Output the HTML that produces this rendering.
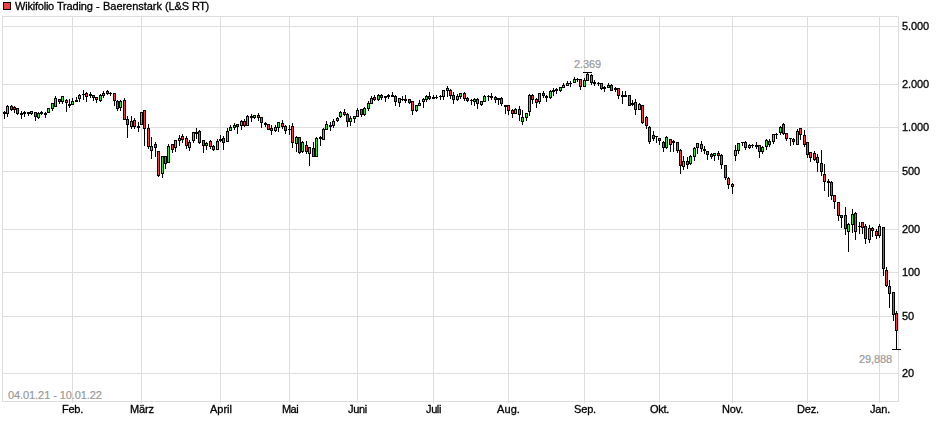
<!DOCTYPE html>
<html><head><meta charset="utf-8"><title>Chart</title>
<style>
html,body{margin:0;padding:0;background:#fff;}
body{width:940px;height:435px;position:relative;overflow:hidden;font-family:"Liberation Sans",sans-serif;font-size:11px;color:#000;}
svg{position:absolute;left:0;top:0;}
.t{position:absolute;line-height:13px;height:13px;white-space:nowrap;will-change:transform;-webkit-text-stroke:0.3px #000;}
.c{text-align:center;}
.g{color:#999;will-change:auto;-webkit-text-stroke:0.2px #999;}
.sq{position:absolute;left:3px;top:2px;width:6px;height:6px;border:1px solid #000;background:#f04040;}
</style></head><body>
<svg width="940" height="435" viewBox="0 0 940 435" shape-rendering="crispEdges">
<rect x="2" y="26" width="897" height="1" fill="#dddddd"/>
<rect x="2" y="84" width="897" height="1" fill="#dddddd"/>
<rect x="2" y="127" width="897" height="1" fill="#dddddd"/>
<rect x="2" y="171" width="897" height="1" fill="#dddddd"/>
<rect x="2" y="229" width="897" height="1" fill="#dddddd"/>
<rect x="2" y="272" width="897" height="1" fill="#dddddd"/>
<rect x="2" y="316" width="897" height="1" fill="#dddddd"/>
<rect x="2" y="373" width="897" height="1" fill="#dddddd"/>
<rect x="72" y="16" width="1" height="387" fill="#dddddd"/>
<rect x="141" y="16" width="1" height="387" fill="#dddddd"/>
<rect x="220" y="16" width="1" height="387" fill="#dddddd"/>
<rect x="289" y="16" width="1" height="387" fill="#dddddd"/>
<rect x="357" y="16" width="1" height="387" fill="#dddddd"/>
<rect x="433" y="16" width="1" height="387" fill="#dddddd"/>
<rect x="508" y="16" width="1" height="387" fill="#dddddd"/>
<rect x="584" y="16" width="1" height="387" fill="#dddddd"/>
<rect x="659" y="16" width="1" height="387" fill="#dddddd"/>
<rect x="732" y="16" width="1" height="387" fill="#dddddd"/>
<rect x="807" y="16" width="1" height="387" fill="#dddddd"/>
<rect x="879" y="16" width="1" height="387" fill="#dddddd"/>
<rect x="2" y="16" width="897" height="1" fill="#dddddd"/>
<rect x="2" y="401" width="897" height="1" fill="#dddddd"/>
<rect x="2" y="16" width="1" height="386" fill="#dddddd"/>
<rect x="898" y="16" width="1" height="386" fill="#dddddd"/>
<rect x="4" y="111" width="1" height="8" fill="#000"/>
<rect x="3" y="112" width="3" height="2" fill="#000"/>
<rect x="7" y="105" width="1" height="12" fill="#000"/>
<rect x="6" y="106" width="3" height="8" fill="#000"/>
<rect x="7" y="107" width="1" height="6" fill="#40e040"/>
<rect x="11" y="105" width="1" height="6" fill="#000"/>
<rect x="10" y="106" width="3" height="4" fill="#000"/>
<rect x="11" y="107" width="1" height="2" fill="#f04040"/>
<rect x="14" y="106" width="1" height="7" fill="#000"/>
<rect x="13" y="107" width="3" height="3" fill="#000"/>
<rect x="14" y="108" width="1" height="1" fill="#f04040"/>
<rect x="17" y="108" width="1" height="7" fill="#000"/>
<rect x="16" y="108" width="3" height="6" fill="#000"/>
<rect x="17" y="109" width="1" height="4" fill="#f04040"/>
<rect x="21" y="111" width="1" height="8" fill="#000"/>
<rect x="20" y="113" width="3" height="2" fill="#000"/>
<rect x="24" y="111" width="1" height="6" fill="#000"/>
<rect x="23" y="112" width="3" height="2" fill="#000"/>
<rect x="28" y="112" width="1" height="4" fill="#000"/>
<rect x="27" y="112" width="3" height="2" fill="#000"/>
<rect x="31" y="111" width="1" height="4" fill="#000"/>
<rect x="30" y="111" width="3" height="3" fill="#000"/>
<rect x="31" y="112" width="1" height="1" fill="#40e040"/>
<rect x="35" y="112" width="1" height="9" fill="#000"/>
<rect x="34" y="112" width="3" height="5" fill="#000"/>
<rect x="35" y="113" width="1" height="3" fill="#f04040"/>
<rect x="38" y="112" width="1" height="7" fill="#000"/>
<rect x="37" y="113" width="3" height="5" fill="#000"/>
<rect x="38" y="114" width="1" height="3" fill="#40e040"/>
<rect x="41" y="111" width="1" height="4" fill="#000"/>
<rect x="40" y="112" width="3" height="2" fill="#000"/>
<rect x="45" y="112" width="1" height="6" fill="#000"/>
<rect x="44" y="113" width="3" height="2" fill="#000"/>
<rect x="48" y="108" width="1" height="5" fill="#000"/>
<rect x="47" y="108" width="3" height="5" fill="#000"/>
<rect x="48" y="109" width="1" height="3" fill="#40e040"/>
<rect x="52" y="103" width="1" height="8" fill="#000"/>
<rect x="51" y="103" width="3" height="6" fill="#000"/>
<rect x="52" y="104" width="1" height="4" fill="#40e040"/>
<rect x="55" y="96" width="1" height="11" fill="#000"/>
<rect x="54" y="98" width="3" height="9" fill="#000"/>
<rect x="55" y="99" width="1" height="7" fill="#40e040"/>
<rect x="59" y="99" width="1" height="5" fill="#000"/>
<rect x="58" y="99" width="3" height="3" fill="#000"/>
<rect x="59" y="100" width="1" height="1" fill="#f04040"/>
<rect x="62" y="96" width="1" height="8" fill="#000"/>
<rect x="61" y="96" width="3" height="6" fill="#000"/>
<rect x="62" y="97" width="1" height="4" fill="#40e040"/>
<rect x="66" y="99" width="1" height="13" fill="#000"/>
<rect x="65" y="100" width="3" height="3" fill="#000"/>
<rect x="66" y="101" width="1" height="1" fill="#f04040"/>
<rect x="69" y="99" width="1" height="9" fill="#000"/>
<rect x="68" y="104" width="3" height="2" fill="#000"/>
<rect x="72" y="98" width="1" height="7" fill="#000"/>
<rect x="71" y="101" width="3" height="4" fill="#000"/>
<rect x="72" y="102" width="1" height="2" fill="#40e040"/>
<rect x="76" y="97" width="1" height="5" fill="#000"/>
<rect x="75" y="100" width="3" height="2" fill="#000"/>
<rect x="79" y="94" width="1" height="8" fill="#000"/>
<rect x="78" y="95" width="3" height="4" fill="#000"/>
<rect x="79" y="96" width="1" height="2" fill="#40e040"/>
<rect x="83" y="90" width="1" height="10" fill="#000"/>
<rect x="82" y="94" width="3" height="1" fill="#000"/>
<rect x="86" y="92" width="1" height="10" fill="#000"/>
<rect x="85" y="93" width="3" height="4" fill="#000"/>
<rect x="86" y="94" width="1" height="2" fill="#f04040"/>
<rect x="90" y="92" width="1" height="6" fill="#000"/>
<rect x="89" y="94" width="3" height="2" fill="#000"/>
<rect x="93" y="95" width="1" height="6" fill="#000"/>
<rect x="92" y="95" width="3" height="3" fill="#000"/>
<rect x="93" y="96" width="1" height="1" fill="#f04040"/>
<rect x="96" y="97" width="1" height="6" fill="#000"/>
<rect x="95" y="97" width="3" height="3" fill="#000"/>
<rect x="96" y="98" width="1" height="1" fill="#f04040"/>
<rect x="100" y="94" width="1" height="8" fill="#000"/>
<rect x="99" y="95" width="3" height="6" fill="#000"/>
<rect x="100" y="96" width="1" height="4" fill="#40e040"/>
<rect x="103" y="91" width="1" height="7" fill="#000"/>
<rect x="102" y="93" width="3" height="3" fill="#000"/>
<rect x="103" y="94" width="1" height="1" fill="#40e040"/>
<rect x="107" y="90" width="1" height="5" fill="#000"/>
<rect x="106" y="91" width="3" height="3" fill="#000"/>
<rect x="107" y="92" width="1" height="1" fill="#f04040"/>
<rect x="110" y="92" width="1" height="4" fill="#000"/>
<rect x="109" y="93" width="3" height="1" fill="#000"/>
<rect x="114" y="93" width="1" height="13" fill="#000"/>
<rect x="113" y="93" width="3" height="8" fill="#000"/>
<rect x="114" y="94" width="1" height="6" fill="#f04040"/>
<rect x="117" y="100" width="1" height="11" fill="#000"/>
<rect x="116" y="101" width="3" height="8" fill="#000"/>
<rect x="117" y="102" width="1" height="6" fill="#f04040"/>
<rect x="120" y="100" width="1" height="11" fill="#000"/>
<rect x="119" y="101" width="3" height="7" fill="#000"/>
<rect x="120" y="102" width="1" height="5" fill="#40e040"/>
<rect x="124" y="98" width="1" height="22" fill="#000"/>
<rect x="123" y="100" width="3" height="20" fill="#000"/>
<rect x="124" y="101" width="1" height="18" fill="#f04040"/>
<rect x="127" y="116" width="1" height="22" fill="#000"/>
<rect x="126" y="119" width="3" height="6" fill="#000"/>
<rect x="127" y="120" width="1" height="4" fill="#f04040"/>
<rect x="131" y="116" width="1" height="13" fill="#000"/>
<rect x="130" y="121" width="3" height="6" fill="#000"/>
<rect x="131" y="122" width="1" height="4" fill="#40e040"/>
<rect x="134" y="118" width="1" height="11" fill="#000"/>
<rect x="133" y="120" width="3" height="7" fill="#000"/>
<rect x="134" y="121" width="1" height="5" fill="#f04040"/>
<rect x="138" y="122" width="1" height="10" fill="#000"/>
<rect x="137" y="126" width="3" height="2" fill="#000"/>
<rect x="141" y="112" width="1" height="13" fill="#000"/>
<rect x="140" y="112" width="3" height="13" fill="#000"/>
<rect x="141" y="113" width="1" height="11" fill="#40e040"/>
<rect x="144" y="110" width="1" height="36" fill="#000"/>
<rect x="143" y="110" width="3" height="19" fill="#000"/>
<rect x="144" y="111" width="1" height="17" fill="#f04040"/>
<rect x="148" y="124" width="1" height="25" fill="#000"/>
<rect x="147" y="128" width="3" height="19" fill="#000"/>
<rect x="148" y="129" width="1" height="17" fill="#f04040"/>
<rect x="151" y="137" width="1" height="22" fill="#000"/>
<rect x="150" y="146" width="3" height="5" fill="#000"/>
<rect x="151" y="147" width="1" height="3" fill="#40e040"/>
<rect x="155" y="142" width="1" height="15" fill="#000"/>
<rect x="154" y="144" width="3" height="4" fill="#000"/>
<rect x="155" y="145" width="1" height="2" fill="#f04040"/>
<rect x="158" y="151" width="1" height="26" fill="#000"/>
<rect x="157" y="151" width="3" height="25" fill="#000"/>
<rect x="158" y="152" width="1" height="23" fill="#f04040"/>
<rect x="162" y="156" width="1" height="22" fill="#000"/>
<rect x="161" y="156" width="3" height="18" fill="#000"/>
<rect x="162" y="157" width="1" height="16" fill="#40e040"/>
<rect x="165" y="156" width="1" height="13" fill="#000"/>
<rect x="164" y="156" width="3" height="8" fill="#000"/>
<rect x="165" y="157" width="1" height="6" fill="#f04040"/>
<rect x="168" y="144" width="1" height="19" fill="#000"/>
<rect x="167" y="146" width="3" height="17" fill="#000"/>
<rect x="168" y="147" width="1" height="15" fill="#40e040"/>
<rect x="172" y="144" width="1" height="9" fill="#000"/>
<rect x="171" y="144" width="3" height="6" fill="#000"/>
<rect x="172" y="145" width="1" height="4" fill="#f04040"/>
<rect x="175" y="140" width="1" height="12" fill="#000"/>
<rect x="174" y="140" width="3" height="8" fill="#000"/>
<rect x="175" y="141" width="1" height="6" fill="#40e040"/>
<rect x="179" y="135" width="1" height="11" fill="#000"/>
<rect x="178" y="138" width="3" height="3" fill="#000"/>
<rect x="179" y="139" width="1" height="1" fill="#40e040"/>
<rect x="182" y="134" width="1" height="9" fill="#000"/>
<rect x="181" y="136" width="3" height="4" fill="#000"/>
<rect x="182" y="137" width="1" height="2" fill="#f04040"/>
<rect x="186" y="136" width="1" height="13" fill="#000"/>
<rect x="185" y="138" width="3" height="8" fill="#000"/>
<rect x="186" y="139" width="1" height="6" fill="#f04040"/>
<rect x="189" y="140" width="1" height="11" fill="#000"/>
<rect x="188" y="142" width="3" height="6" fill="#000"/>
<rect x="189" y="143" width="1" height="4" fill="#40e040"/>
<rect x="193" y="132" width="1" height="11" fill="#000"/>
<rect x="192" y="132" width="3" height="9" fill="#000"/>
<rect x="193" y="133" width="1" height="7" fill="#40e040"/>
<rect x="196" y="128" width="1" height="11" fill="#000"/>
<rect x="195" y="132" width="3" height="2" fill="#000"/>
<rect x="199" y="130" width="1" height="14" fill="#000"/>
<rect x="198" y="131" width="3" height="12" fill="#000"/>
<rect x="199" y="132" width="1" height="10" fill="#f04040"/>
<rect x="203" y="140" width="1" height="13" fill="#000"/>
<rect x="202" y="140" width="3" height="6" fill="#000"/>
<rect x="203" y="141" width="1" height="4" fill="#f04040"/>
<rect x="206" y="142" width="1" height="8" fill="#000"/>
<rect x="205" y="143" width="3" height="3" fill="#000"/>
<rect x="206" y="144" width="1" height="1" fill="#40e040"/>
<rect x="210" y="140" width="1" height="9" fill="#000"/>
<rect x="209" y="141" width="3" height="6" fill="#000"/>
<rect x="210" y="142" width="1" height="4" fill="#f04040"/>
<rect x="213" y="145" width="1" height="6" fill="#000"/>
<rect x="212" y="146" width="3" height="4" fill="#000"/>
<rect x="213" y="147" width="1" height="2" fill="#f04040"/>
<rect x="217" y="139" width="1" height="11" fill="#000"/>
<rect x="216" y="141" width="3" height="9" fill="#000"/>
<rect x="217" y="142" width="1" height="7" fill="#40e040"/>
<rect x="220" y="135" width="1" height="7" fill="#000"/>
<rect x="219" y="139" width="3" height="2" fill="#000"/>
<rect x="223" y="136" width="1" height="14" fill="#000"/>
<rect x="222" y="138" width="3" height="5" fill="#000"/>
<rect x="223" y="139" width="1" height="3" fill="#f04040"/>
<rect x="227" y="128" width="1" height="14" fill="#000"/>
<rect x="226" y="131" width="3" height="11" fill="#000"/>
<rect x="227" y="132" width="1" height="9" fill="#40e040"/>
<rect x="230" y="125" width="1" height="6" fill="#000"/>
<rect x="229" y="127" width="3" height="4" fill="#000"/>
<rect x="230" y="128" width="1" height="2" fill="#40e040"/>
<rect x="234" y="123" width="1" height="7" fill="#000"/>
<rect x="233" y="125" width="3" height="3" fill="#000"/>
<rect x="234" y="126" width="1" height="1" fill="#40e040"/>
<rect x="237" y="124" width="1" height="10" fill="#000"/>
<rect x="236" y="124" width="3" height="3" fill="#000"/>
<rect x="237" y="125" width="1" height="1" fill="#f04040"/>
<rect x="241" y="120" width="1" height="10" fill="#000"/>
<rect x="240" y="121" width="3" height="5" fill="#000"/>
<rect x="241" y="122" width="1" height="3" fill="#40e040"/>
<rect x="244" y="119" width="1" height="8" fill="#000"/>
<rect x="243" y="121" width="3" height="5" fill="#000"/>
<rect x="244" y="122" width="1" height="3" fill="#f04040"/>
<rect x="247" y="115" width="1" height="11" fill="#000"/>
<rect x="246" y="116" width="3" height="10" fill="#000"/>
<rect x="247" y="117" width="1" height="8" fill="#40e040"/>
<rect x="251" y="114" width="1" height="8" fill="#000"/>
<rect x="250" y="116" width="3" height="2" fill="#000"/>
<rect x="254" y="115" width="1" height="4" fill="#000"/>
<rect x="253" y="115" width="3" height="3" fill="#000"/>
<rect x="254" y="116" width="1" height="1" fill="#40e040"/>
<rect x="258" y="113" width="1" height="8" fill="#000"/>
<rect x="257" y="115" width="3" height="3" fill="#000"/>
<rect x="258" y="116" width="1" height="1" fill="#f04040"/>
<rect x="261" y="117" width="1" height="11" fill="#000"/>
<rect x="260" y="117" width="3" height="6" fill="#000"/>
<rect x="261" y="118" width="1" height="4" fill="#f04040"/>
<rect x="265" y="122" width="1" height="5" fill="#000"/>
<rect x="264" y="123" width="3" height="2" fill="#000"/>
<rect x="268" y="124" width="1" height="6" fill="#000"/>
<rect x="267" y="124" width="3" height="6" fill="#000"/>
<rect x="268" y="125" width="1" height="4" fill="#f04040"/>
<rect x="271" y="125" width="1" height="10" fill="#000"/>
<rect x="270" y="128" width="3" height="3" fill="#000"/>
<rect x="271" y="129" width="1" height="1" fill="#f04040"/>
<rect x="275" y="125" width="1" height="7" fill="#000"/>
<rect x="274" y="127" width="3" height="4" fill="#000"/>
<rect x="275" y="128" width="1" height="2" fill="#40e040"/>
<rect x="278" y="122" width="1" height="10" fill="#000"/>
<rect x="277" y="122" width="3" height="6" fill="#000"/>
<rect x="278" y="123" width="1" height="4" fill="#40e040"/>
<rect x="282" y="120" width="1" height="9" fill="#000"/>
<rect x="281" y="123" width="3" height="4" fill="#000"/>
<rect x="282" y="124" width="1" height="2" fill="#f04040"/>
<rect x="285" y="125" width="1" height="9" fill="#000"/>
<rect x="284" y="126" width="3" height="5" fill="#000"/>
<rect x="285" y="127" width="1" height="3" fill="#f04040"/>
<rect x="289" y="125" width="1" height="10" fill="#000"/>
<rect x="288" y="129" width="3" height="1" fill="#000"/>
<rect x="292" y="123" width="1" height="25" fill="#000"/>
<rect x="291" y="126" width="3" height="17" fill="#000"/>
<rect x="292" y="127" width="1" height="15" fill="#f04040"/>
<rect x="296" y="136" width="1" height="16" fill="#000"/>
<rect x="295" y="137" width="3" height="7" fill="#000"/>
<rect x="296" y="138" width="1" height="5" fill="#40e040"/>
<rect x="299" y="137" width="1" height="17" fill="#000"/>
<rect x="298" y="137" width="3" height="16" fill="#000"/>
<rect x="299" y="138" width="1" height="14" fill="#f04040"/>
<rect x="302" y="141" width="1" height="12" fill="#000"/>
<rect x="301" y="142" width="3" height="10" fill="#000"/>
<rect x="302" y="143" width="1" height="8" fill="#40e040"/>
<rect x="306" y="141" width="1" height="13" fill="#000"/>
<rect x="305" y="145" width="3" height="7" fill="#000"/>
<rect x="306" y="146" width="1" height="5" fill="#f04040"/>
<rect x="309" y="147" width="1" height="19" fill="#000"/>
<rect x="308" y="147" width="3" height="7" fill="#000"/>
<rect x="309" y="148" width="1" height="5" fill="#40e040"/>
<rect x="313" y="142" width="1" height="15" fill="#000"/>
<rect x="312" y="148" width="3" height="9" fill="#000"/>
<rect x="313" y="149" width="1" height="7" fill="#f04040"/>
<rect x="316" y="137" width="1" height="20" fill="#000"/>
<rect x="315" y="138" width="3" height="19" fill="#000"/>
<rect x="316" y="139" width="1" height="17" fill="#40e040"/>
<rect x="320" y="136" width="1" height="10" fill="#000"/>
<rect x="319" y="137" width="3" height="2" fill="#000"/>
<rect x="323" y="128" width="1" height="12" fill="#000"/>
<rect x="322" y="129" width="3" height="11" fill="#000"/>
<rect x="323" y="130" width="1" height="9" fill="#40e040"/>
<rect x="326" y="121" width="1" height="9" fill="#000"/>
<rect x="325" y="124" width="3" height="6" fill="#000"/>
<rect x="326" y="125" width="1" height="4" fill="#40e040"/>
<rect x="330" y="122" width="1" height="9" fill="#000"/>
<rect x="329" y="125" width="3" height="2" fill="#000"/>
<rect x="333" y="119" width="1" height="9" fill="#000"/>
<rect x="332" y="121" width="3" height="5" fill="#000"/>
<rect x="333" y="122" width="1" height="3" fill="#40e040"/>
<rect x="337" y="117" width="1" height="5" fill="#000"/>
<rect x="336" y="118" width="3" height="3" fill="#000"/>
<rect x="337" y="119" width="1" height="1" fill="#40e040"/>
<rect x="340" y="111" width="1" height="7" fill="#000"/>
<rect x="339" y="112" width="3" height="5" fill="#000"/>
<rect x="340" y="113" width="1" height="3" fill="#40e040"/>
<rect x="344" y="109" width="1" height="7" fill="#000"/>
<rect x="343" y="112" width="3" height="3" fill="#000"/>
<rect x="344" y="113" width="1" height="1" fill="#f04040"/>
<rect x="347" y="113" width="1" height="14" fill="#000"/>
<rect x="346" y="114" width="3" height="8" fill="#000"/>
<rect x="347" y="115" width="1" height="6" fill="#f04040"/>
<rect x="350" y="116" width="1" height="10" fill="#000"/>
<rect x="349" y="118" width="3" height="4" fill="#000"/>
<rect x="350" y="119" width="1" height="2" fill="#40e040"/>
<rect x="354" y="116" width="1" height="7" fill="#000"/>
<rect x="353" y="116" width="3" height="3" fill="#000"/>
<rect x="354" y="117" width="1" height="1" fill="#40e040"/>
<rect x="357" y="108" width="1" height="9" fill="#000"/>
<rect x="356" y="110" width="3" height="7" fill="#000"/>
<rect x="357" y="111" width="1" height="5" fill="#40e040"/>
<rect x="361" y="109" width="1" height="8" fill="#000"/>
<rect x="360" y="109" width="3" height="6" fill="#000"/>
<rect x="361" y="110" width="1" height="4" fill="#f04040"/>
<rect x="364" y="107" width="1" height="9" fill="#000"/>
<rect x="363" y="108" width="3" height="7" fill="#000"/>
<rect x="364" y="109" width="1" height="5" fill="#40e040"/>
<rect x="368" y="101" width="1" height="10" fill="#000"/>
<rect x="367" y="103" width="3" height="6" fill="#000"/>
<rect x="368" y="104" width="1" height="4" fill="#40e040"/>
<rect x="371" y="96" width="1" height="8" fill="#000"/>
<rect x="370" y="98" width="3" height="6" fill="#000"/>
<rect x="371" y="99" width="1" height="4" fill="#40e040"/>
<rect x="374" y="95" width="1" height="6" fill="#000"/>
<rect x="373" y="97" width="3" height="3" fill="#000"/>
<rect x="374" y="98" width="1" height="1" fill="#f04040"/>
<rect x="378" y="94" width="1" height="7" fill="#000"/>
<rect x="377" y="95" width="3" height="5" fill="#000"/>
<rect x="378" y="96" width="1" height="3" fill="#40e040"/>
<rect x="381" y="94" width="1" height="6" fill="#000"/>
<rect x="380" y="95" width="3" height="3" fill="#000"/>
<rect x="381" y="96" width="1" height="1" fill="#f04040"/>
<rect x="385" y="96" width="1" height="6" fill="#000"/>
<rect x="384" y="96" width="3" height="2" fill="#000"/>
<rect x="388" y="94" width="1" height="5" fill="#000"/>
<rect x="387" y="95" width="3" height="2" fill="#000"/>
<rect x="392" y="92" width="1" height="5" fill="#000"/>
<rect x="391" y="95" width="3" height="2" fill="#000"/>
<rect x="395" y="95" width="1" height="11" fill="#000"/>
<rect x="394" y="96" width="3" height="6" fill="#000"/>
<rect x="395" y="97" width="1" height="4" fill="#f04040"/>
<rect x="399" y="98" width="1" height="9" fill="#000"/>
<rect x="398" y="98" width="3" height="5" fill="#000"/>
<rect x="399" y="99" width="1" height="3" fill="#40e040"/>
<rect x="402" y="96" width="1" height="5" fill="#000"/>
<rect x="401" y="99" width="3" height="1" fill="#000"/>
<rect x="405" y="95" width="1" height="8" fill="#000"/>
<rect x="404" y="99" width="3" height="2" fill="#000"/>
<rect x="409" y="99" width="1" height="5" fill="#000"/>
<rect x="408" y="99" width="3" height="4" fill="#000"/>
<rect x="409" y="100" width="1" height="2" fill="#f04040"/>
<rect x="412" y="101" width="1" height="14" fill="#000"/>
<rect x="411" y="101" width="3" height="10" fill="#000"/>
<rect x="412" y="102" width="1" height="8" fill="#f04040"/>
<rect x="416" y="105" width="1" height="7" fill="#000"/>
<rect x="415" y="105" width="3" height="6" fill="#000"/>
<rect x="416" y="106" width="1" height="4" fill="#40e040"/>
<rect x="419" y="100" width="1" height="6" fill="#000"/>
<rect x="418" y="103" width="3" height="3" fill="#000"/>
<rect x="419" y="104" width="1" height="1" fill="#40e040"/>
<rect x="423" y="98" width="1" height="10" fill="#000"/>
<rect x="422" y="99" width="3" height="3" fill="#000"/>
<rect x="423" y="100" width="1" height="1" fill="#40e040"/>
<rect x="426" y="95" width="1" height="7" fill="#000"/>
<rect x="425" y="96" width="3" height="4" fill="#000"/>
<rect x="426" y="97" width="1" height="2" fill="#40e040"/>
<rect x="429" y="92" width="1" height="8" fill="#000"/>
<rect x="428" y="96" width="3" height="3" fill="#000"/>
<rect x="429" y="97" width="1" height="1" fill="#f04040"/>
<rect x="433" y="95" width="1" height="4" fill="#000"/>
<rect x="432" y="97" width="3" height="2" fill="#000"/>
<rect x="436" y="95" width="1" height="4" fill="#000"/>
<rect x="435" y="97" width="3" height="1" fill="#000"/>
<rect x="440" y="95" width="1" height="5" fill="#000"/>
<rect x="439" y="96" width="3" height="1" fill="#000"/>
<rect x="443" y="90" width="1" height="10" fill="#000"/>
<rect x="442" y="90" width="3" height="7" fill="#000"/>
<rect x="443" y="91" width="1" height="5" fill="#40e040"/>
<rect x="447" y="86" width="1" height="11" fill="#000"/>
<rect x="446" y="88" width="3" height="3" fill="#000"/>
<rect x="447" y="89" width="1" height="1" fill="#40e040"/>
<rect x="450" y="89" width="1" height="10" fill="#000"/>
<rect x="449" y="90" width="3" height="6" fill="#000"/>
<rect x="450" y="91" width="1" height="4" fill="#f04040"/>
<rect x="453" y="92" width="1" height="12" fill="#000"/>
<rect x="452" y="95" width="3" height="5" fill="#000"/>
<rect x="453" y="96" width="1" height="3" fill="#f04040"/>
<rect x="457" y="94" width="1" height="7" fill="#000"/>
<rect x="456" y="96" width="3" height="4" fill="#000"/>
<rect x="457" y="97" width="1" height="2" fill="#40e040"/>
<rect x="460" y="93" width="1" height="6" fill="#000"/>
<rect x="459" y="93" width="3" height="4" fill="#000"/>
<rect x="460" y="94" width="1" height="2" fill="#40e040"/>
<rect x="464" y="92" width="1" height="9" fill="#000"/>
<rect x="463" y="93" width="3" height="6" fill="#000"/>
<rect x="464" y="94" width="1" height="4" fill="#f04040"/>
<rect x="467" y="97" width="1" height="5" fill="#000"/>
<rect x="466" y="98" width="3" height="3" fill="#000"/>
<rect x="467" y="99" width="1" height="1" fill="#f04040"/>
<rect x="471" y="99" width="1" height="6" fill="#000"/>
<rect x="470" y="100" width="3" height="1" fill="#000"/>
<rect x="474" y="98" width="1" height="8" fill="#000"/>
<rect x="473" y="99" width="3" height="3" fill="#000"/>
<rect x="474" y="100" width="1" height="1" fill="#40e040"/>
<rect x="477" y="98" width="1" height="11" fill="#000"/>
<rect x="476" y="99" width="3" height="5" fill="#000"/>
<rect x="477" y="100" width="1" height="3" fill="#f04040"/>
<rect x="481" y="101" width="1" height="5" fill="#000"/>
<rect x="480" y="101" width="3" height="4" fill="#000"/>
<rect x="481" y="102" width="1" height="2" fill="#40e040"/>
<rect x="484" y="95" width="1" height="7" fill="#000"/>
<rect x="483" y="96" width="3" height="6" fill="#000"/>
<rect x="484" y="97" width="1" height="4" fill="#40e040"/>
<rect x="488" y="95" width="1" height="6" fill="#000"/>
<rect x="487" y="96" width="3" height="1" fill="#000"/>
<rect x="491" y="93" width="1" height="7" fill="#000"/>
<rect x="490" y="96" width="3" height="2" fill="#000"/>
<rect x="495" y="96" width="1" height="7" fill="#000"/>
<rect x="494" y="97" width="3" height="3" fill="#000"/>
<rect x="495" y="98" width="1" height="1" fill="#f04040"/>
<rect x="498" y="98" width="1" height="7" fill="#000"/>
<rect x="497" y="98" width="3" height="2" fill="#000"/>
<rect x="501" y="97" width="1" height="9" fill="#000"/>
<rect x="500" y="98" width="3" height="6" fill="#000"/>
<rect x="501" y="99" width="1" height="4" fill="#f04040"/>
<rect x="505" y="105" width="1" height="9" fill="#000"/>
<rect x="504" y="105" width="3" height="2" fill="#000"/>
<rect x="508" y="105" width="1" height="10" fill="#000"/>
<rect x="507" y="105" width="3" height="6" fill="#000"/>
<rect x="508" y="106" width="1" height="4" fill="#f04040"/>
<rect x="512" y="109" width="1" height="9" fill="#000"/>
<rect x="511" y="110" width="3" height="4" fill="#000"/>
<rect x="512" y="111" width="1" height="2" fill="#f04040"/>
<rect x="515" y="108" width="1" height="5" fill="#000"/>
<rect x="514" y="109" width="3" height="5" fill="#000"/>
<rect x="515" y="110" width="1" height="3" fill="#40e040"/>
<rect x="519" y="106" width="1" height="15" fill="#000"/>
<rect x="518" y="109" width="3" height="6" fill="#000"/>
<rect x="519" y="110" width="1" height="4" fill="#f04040"/>
<rect x="522" y="110" width="1" height="15" fill="#000"/>
<rect x="521" y="117" width="3" height="5" fill="#000"/>
<rect x="522" y="118" width="1" height="3" fill="#40e040"/>
<rect x="526" y="113" width="1" height="8" fill="#000"/>
<rect x="525" y="113" width="3" height="5" fill="#000"/>
<rect x="526" y="114" width="1" height="3" fill="#40e040"/>
<rect x="529" y="94" width="1" height="22" fill="#000"/>
<rect x="528" y="95" width="3" height="17" fill="#000"/>
<rect x="529" y="96" width="1" height="15" fill="#40e040"/>
<rect x="532" y="94" width="1" height="10" fill="#000"/>
<rect x="531" y="95" width="3" height="5" fill="#000"/>
<rect x="532" y="96" width="1" height="3" fill="#f04040"/>
<rect x="536" y="98" width="1" height="10" fill="#000"/>
<rect x="535" y="99" width="3" height="4" fill="#000"/>
<rect x="536" y="100" width="1" height="2" fill="#f04040"/>
<rect x="539" y="93" width="1" height="11" fill="#000"/>
<rect x="538" y="93" width="3" height="9" fill="#000"/>
<rect x="539" y="94" width="1" height="7" fill="#40e040"/>
<rect x="543" y="91" width="1" height="7" fill="#000"/>
<rect x="542" y="93" width="3" height="3" fill="#000"/>
<rect x="543" y="94" width="1" height="1" fill="#f04040"/>
<rect x="546" y="95" width="1" height="7" fill="#000"/>
<rect x="545" y="96" width="3" height="2" fill="#000"/>
<rect x="550" y="90" width="1" height="9" fill="#000"/>
<rect x="549" y="91" width="3" height="7" fill="#000"/>
<rect x="550" y="92" width="1" height="5" fill="#40e040"/>
<rect x="553" y="88" width="1" height="8" fill="#000"/>
<rect x="552" y="90" width="3" height="2" fill="#000"/>
<rect x="556" y="88" width="1" height="6" fill="#000"/>
<rect x="555" y="89" width="3" height="2" fill="#000"/>
<rect x="560" y="87" width="1" height="5" fill="#000"/>
<rect x="559" y="87" width="3" height="4" fill="#000"/>
<rect x="560" y="88" width="1" height="2" fill="#40e040"/>
<rect x="563" y="83" width="1" height="5" fill="#000"/>
<rect x="562" y="85" width="3" height="3" fill="#000"/>
<rect x="563" y="86" width="1" height="1" fill="#40e040"/>
<rect x="567" y="81" width="1" height="5" fill="#000"/>
<rect x="566" y="83" width="3" height="3" fill="#000"/>
<rect x="567" y="84" width="1" height="1" fill="#40e040"/>
<rect x="570" y="81" width="1" height="6" fill="#000"/>
<rect x="569" y="83" width="3" height="1" fill="#000"/>
<rect x="574" y="77" width="1" height="6" fill="#000"/>
<rect x="573" y="79" width="3" height="4" fill="#000"/>
<rect x="574" y="80" width="1" height="2" fill="#40e040"/>
<rect x="577" y="78" width="1" height="4" fill="#000"/>
<rect x="576" y="79" width="3" height="1" fill="#000"/>
<rect x="580" y="79" width="1" height="11" fill="#000"/>
<rect x="579" y="79" width="3" height="8" fill="#000"/>
<rect x="580" y="80" width="1" height="6" fill="#f04040"/>
<rect x="584" y="78" width="1" height="9" fill="#000"/>
<rect x="583" y="80" width="3" height="7" fill="#000"/>
<rect x="584" y="81" width="1" height="5" fill="#40e040"/>
<rect x="587" y="72" width="1" height="9" fill="#000"/>
<rect x="586" y="74" width="3" height="7" fill="#000"/>
<rect x="587" y="75" width="1" height="5" fill="#40e040"/>
<rect x="591" y="74" width="1" height="11" fill="#000"/>
<rect x="590" y="75" width="3" height="8" fill="#000"/>
<rect x="591" y="76" width="1" height="6" fill="#f04040"/>
<rect x="594" y="80" width="1" height="6" fill="#000"/>
<rect x="593" y="82" width="3" height="2" fill="#000"/>
<rect x="598" y="82" width="1" height="4" fill="#000"/>
<rect x="597" y="83" width="3" height="1" fill="#000"/>
<rect x="601" y="83" width="1" height="7" fill="#000"/>
<rect x="600" y="83" width="3" height="6" fill="#000"/>
<rect x="601" y="84" width="1" height="4" fill="#f04040"/>
<rect x="604" y="86" width="1" height="6" fill="#000"/>
<rect x="603" y="87" width="3" height="2" fill="#000"/>
<rect x="608" y="83" width="1" height="5" fill="#000"/>
<rect x="607" y="85" width="3" height="3" fill="#000"/>
<rect x="608" y="86" width="1" height="1" fill="#40e040"/>
<rect x="611" y="84" width="1" height="7" fill="#000"/>
<rect x="610" y="85" width="3" height="6" fill="#000"/>
<rect x="611" y="86" width="1" height="4" fill="#f04040"/>
<rect x="615" y="87" width="1" height="5" fill="#000"/>
<rect x="614" y="88" width="3" height="2" fill="#000"/>
<rect x="618" y="88" width="1" height="11" fill="#000"/>
<rect x="617" y="88" width="3" height="8" fill="#000"/>
<rect x="618" y="89" width="1" height="6" fill="#f04040"/>
<rect x="622" y="91" width="1" height="13" fill="#000"/>
<rect x="621" y="95" width="3" height="2" fill="#000"/>
<rect x="625" y="91" width="1" height="6" fill="#000"/>
<rect x="624" y="95" width="3" height="2" fill="#000"/>
<rect x="629" y="95" width="1" height="11" fill="#000"/>
<rect x="628" y="95" width="3" height="11" fill="#000"/>
<rect x="629" y="96" width="1" height="9" fill="#f04040"/>
<rect x="632" y="100" width="1" height="6" fill="#000"/>
<rect x="631" y="103" width="3" height="2" fill="#000"/>
<rect x="635" y="99" width="1" height="16" fill="#000"/>
<rect x="634" y="102" width="3" height="8" fill="#000"/>
<rect x="635" y="103" width="1" height="6" fill="#f04040"/>
<rect x="639" y="103" width="1" height="7" fill="#000"/>
<rect x="638" y="104" width="3" height="6" fill="#000"/>
<rect x="639" y="105" width="1" height="4" fill="#40e040"/>
<rect x="642" y="105" width="1" height="19" fill="#000"/>
<rect x="641" y="105" width="3" height="18" fill="#000"/>
<rect x="642" y="106" width="1" height="16" fill="#f04040"/>
<rect x="646" y="116" width="1" height="13" fill="#000"/>
<rect x="645" y="117" width="3" height="9" fill="#000"/>
<rect x="646" y="118" width="1" height="7" fill="#f04040"/>
<rect x="649" y="126" width="1" height="18" fill="#000"/>
<rect x="648" y="127" width="3" height="15" fill="#000"/>
<rect x="649" y="128" width="1" height="13" fill="#f04040"/>
<rect x="653" y="131" width="1" height="10" fill="#000"/>
<rect x="652" y="135" width="3" height="4" fill="#000"/>
<rect x="653" y="136" width="1" height="2" fill="#f04040"/>
<rect x="656" y="136" width="1" height="7" fill="#000"/>
<rect x="655" y="136" width="3" height="1" fill="#000"/>
<rect x="659" y="138" width="1" height="7" fill="#000"/>
<rect x="658" y="138" width="3" height="3" fill="#000"/>
<rect x="659" y="139" width="1" height="1" fill="#f04040"/>
<rect x="663" y="141" width="1" height="11" fill="#000"/>
<rect x="662" y="142" width="3" height="6" fill="#000"/>
<rect x="663" y="143" width="1" height="4" fill="#f04040"/>
<rect x="666" y="136" width="1" height="13" fill="#000"/>
<rect x="665" y="137" width="3" height="11" fill="#000"/>
<rect x="666" y="138" width="1" height="9" fill="#40e040"/>
<rect x="670" y="139" width="1" height="13" fill="#000"/>
<rect x="669" y="139" width="3" height="6" fill="#000"/>
<rect x="670" y="140" width="1" height="4" fill="#f04040"/>
<rect x="673" y="140" width="1" height="12" fill="#000"/>
<rect x="672" y="141" width="3" height="2" fill="#000"/>
<rect x="677" y="142" width="1" height="11" fill="#000"/>
<rect x="676" y="142" width="3" height="9" fill="#000"/>
<rect x="677" y="143" width="1" height="7" fill="#f04040"/>
<rect x="680" y="149" width="1" height="25" fill="#000"/>
<rect x="679" y="150" width="3" height="16" fill="#000"/>
<rect x="680" y="151" width="1" height="14" fill="#f04040"/>
<rect x="683" y="156" width="1" height="14" fill="#000"/>
<rect x="682" y="161" width="3" height="6" fill="#000"/>
<rect x="683" y="162" width="1" height="4" fill="#40e040"/>
<rect x="687" y="157" width="1" height="12" fill="#000"/>
<rect x="686" y="161" width="3" height="4" fill="#000"/>
<rect x="687" y="162" width="1" height="2" fill="#f04040"/>
<rect x="690" y="155" width="1" height="10" fill="#000"/>
<rect x="689" y="156" width="3" height="8" fill="#000"/>
<rect x="690" y="157" width="1" height="6" fill="#40e040"/>
<rect x="694" y="147" width="1" height="14" fill="#000"/>
<rect x="693" y="148" width="3" height="9" fill="#000"/>
<rect x="694" y="149" width="1" height="7" fill="#40e040"/>
<rect x="697" y="143" width="1" height="11" fill="#000"/>
<rect x="696" y="143" width="3" height="5" fill="#000"/>
<rect x="697" y="144" width="1" height="3" fill="#40e040"/>
<rect x="701" y="141" width="1" height="11" fill="#000"/>
<rect x="700" y="144" width="3" height="5" fill="#000"/>
<rect x="701" y="145" width="1" height="3" fill="#f04040"/>
<rect x="704" y="146" width="1" height="8" fill="#000"/>
<rect x="703" y="149" width="3" height="2" fill="#000"/>
<rect x="707" y="151" width="1" height="9" fill="#000"/>
<rect x="706" y="151" width="3" height="4" fill="#000"/>
<rect x="707" y="152" width="1" height="2" fill="#f04040"/>
<rect x="711" y="153" width="1" height="6" fill="#000"/>
<rect x="710" y="154" width="3" height="3" fill="#000"/>
<rect x="711" y="155" width="1" height="1" fill="#f04040"/>
<rect x="714" y="153" width="1" height="8" fill="#000"/>
<rect x="713" y="153" width="3" height="3" fill="#000"/>
<rect x="714" y="154" width="1" height="1" fill="#40e040"/>
<rect x="718" y="151" width="1" height="9" fill="#000"/>
<rect x="717" y="153" width="3" height="3" fill="#000"/>
<rect x="718" y="154" width="1" height="1" fill="#f04040"/>
<rect x="721" y="154" width="1" height="15" fill="#000"/>
<rect x="720" y="155" width="3" height="10" fill="#000"/>
<rect x="721" y="156" width="1" height="8" fill="#f04040"/>
<rect x="725" y="165" width="1" height="15" fill="#000"/>
<rect x="724" y="165" width="3" height="13" fill="#000"/>
<rect x="725" y="166" width="1" height="11" fill="#f04040"/>
<rect x="728" y="177" width="1" height="12" fill="#000"/>
<rect x="727" y="178" width="3" height="7" fill="#000"/>
<rect x="728" y="179" width="1" height="5" fill="#f04040"/>
<rect x="732" y="183" width="1" height="11" fill="#000"/>
<rect x="731" y="184" width="3" height="3" fill="#000"/>
<rect x="732" y="185" width="1" height="1" fill="#f04040"/>
<rect x="735" y="145" width="1" height="16" fill="#000"/>
<rect x="734" y="150" width="3" height="6" fill="#000"/>
<rect x="735" y="151" width="1" height="4" fill="#40e040"/>
<rect x="738" y="143" width="1" height="11" fill="#000"/>
<rect x="737" y="143" width="3" height="8" fill="#000"/>
<rect x="738" y="144" width="1" height="6" fill="#40e040"/>
<rect x="742" y="142" width="1" height="4" fill="#000"/>
<rect x="741" y="142" width="3" height="1" fill="#000"/>
<rect x="745" y="141" width="1" height="9" fill="#000"/>
<rect x="744" y="142" width="3" height="6" fill="#000"/>
<rect x="745" y="143" width="1" height="4" fill="#f04040"/>
<rect x="749" y="144" width="1" height="5" fill="#000"/>
<rect x="748" y="145" width="3" height="3" fill="#000"/>
<rect x="749" y="146" width="1" height="1" fill="#40e040"/>
<rect x="752" y="144" width="1" height="4" fill="#000"/>
<rect x="751" y="145" width="3" height="1" fill="#000"/>
<rect x="756" y="142" width="1" height="7" fill="#000"/>
<rect x="755" y="145" width="3" height="2" fill="#000"/>
<rect x="759" y="145" width="1" height="13" fill="#000"/>
<rect x="758" y="145" width="3" height="7" fill="#000"/>
<rect x="759" y="146" width="1" height="5" fill="#f04040"/>
<rect x="762" y="146" width="1" height="8" fill="#000"/>
<rect x="761" y="147" width="3" height="5" fill="#000"/>
<rect x="762" y="148" width="1" height="3" fill="#40e040"/>
<rect x="766" y="139" width="1" height="11" fill="#000"/>
<rect x="765" y="140" width="3" height="7" fill="#000"/>
<rect x="766" y="141" width="1" height="5" fill="#40e040"/>
<rect x="769" y="139" width="1" height="8" fill="#000"/>
<rect x="768" y="141" width="3" height="4" fill="#000"/>
<rect x="769" y="142" width="1" height="2" fill="#f04040"/>
<rect x="773" y="134" width="1" height="10" fill="#000"/>
<rect x="772" y="134" width="3" height="8" fill="#000"/>
<rect x="773" y="135" width="1" height="6" fill="#40e040"/>
<rect x="776" y="133" width="1" height="6" fill="#000"/>
<rect x="775" y="134" width="3" height="1" fill="#000"/>
<rect x="780" y="126" width="1" height="9" fill="#000"/>
<rect x="779" y="127" width="3" height="6" fill="#000"/>
<rect x="780" y="128" width="1" height="4" fill="#40e040"/>
<rect x="783" y="123" width="1" height="12" fill="#000"/>
<rect x="782" y="124" width="3" height="10" fill="#000"/>
<rect x="783" y="125" width="1" height="8" fill="#f04040"/>
<rect x="786" y="133" width="1" height="8" fill="#000"/>
<rect x="785" y="133" width="3" height="6" fill="#000"/>
<rect x="786" y="134" width="1" height="4" fill="#f04040"/>
<rect x="790" y="138" width="1" height="8" fill="#000"/>
<rect x="789" y="138" width="3" height="1" fill="#000"/>
<rect x="793" y="138" width="1" height="7" fill="#000"/>
<rect x="792" y="139" width="3" height="3" fill="#000"/>
<rect x="793" y="140" width="1" height="1" fill="#f04040"/>
<rect x="797" y="129" width="1" height="16" fill="#000"/>
<rect x="796" y="131" width="3" height="14" fill="#000"/>
<rect x="797" y="132" width="1" height="12" fill="#40e040"/>
<rect x="800" y="128" width="1" height="12" fill="#000"/>
<rect x="799" y="128" width="3" height="7" fill="#000"/>
<rect x="800" y="129" width="1" height="5" fill="#f04040"/>
<rect x="804" y="130" width="1" height="17" fill="#000"/>
<rect x="803" y="135" width="3" height="10" fill="#000"/>
<rect x="804" y="136" width="1" height="8" fill="#f04040"/>
<rect x="807" y="142" width="1" height="16" fill="#000"/>
<rect x="806" y="142" width="3" height="13" fill="#000"/>
<rect x="807" y="143" width="1" height="11" fill="#f04040"/>
<rect x="810" y="152" width="1" height="10" fill="#000"/>
<rect x="809" y="152" width="3" height="6" fill="#000"/>
<rect x="810" y="153" width="1" height="4" fill="#f04040"/>
<rect x="814" y="151" width="1" height="10" fill="#000"/>
<rect x="813" y="153" width="3" height="7" fill="#000"/>
<rect x="814" y="154" width="1" height="5" fill="#f04040"/>
<rect x="817" y="154" width="1" height="18" fill="#000"/>
<rect x="816" y="157" width="3" height="6" fill="#000"/>
<rect x="817" y="158" width="1" height="4" fill="#f04040"/>
<rect x="821" y="150" width="1" height="26" fill="#000"/>
<rect x="820" y="163" width="3" height="9" fill="#000"/>
<rect x="821" y="164" width="1" height="7" fill="#f04040"/>
<rect x="824" y="164" width="1" height="27" fill="#000"/>
<rect x="823" y="174" width="3" height="8" fill="#000"/>
<rect x="824" y="175" width="1" height="6" fill="#f04040"/>
<rect x="828" y="179" width="1" height="18" fill="#000"/>
<rect x="827" y="181" width="3" height="2" fill="#000"/>
<rect x="831" y="181" width="1" height="19" fill="#000"/>
<rect x="830" y="182" width="3" height="14" fill="#000"/>
<rect x="831" y="183" width="1" height="12" fill="#f04040"/>
<rect x="834" y="195" width="1" height="14" fill="#000"/>
<rect x="833" y="195" width="3" height="7" fill="#000"/>
<rect x="834" y="196" width="1" height="5" fill="#f04040"/>
<rect x="838" y="202" width="1" height="19" fill="#000"/>
<rect x="837" y="202" width="3" height="14" fill="#000"/>
<rect x="838" y="203" width="1" height="12" fill="#f04040"/>
<rect x="841" y="215" width="1" height="13" fill="#000"/>
<rect x="840" y="215" width="3" height="3" fill="#000"/>
<rect x="841" y="216" width="1" height="1" fill="#f04040"/>
<rect x="845" y="207" width="1" height="28" fill="#000"/>
<rect x="844" y="215" width="3" height="14" fill="#000"/>
<rect x="845" y="216" width="1" height="12" fill="#f04040"/>
<rect x="848" y="223" width="1" height="29" fill="#000"/>
<rect x="847" y="224" width="3" height="8" fill="#000"/>
<rect x="848" y="225" width="1" height="6" fill="#40e040"/>
<rect x="852" y="209" width="1" height="24" fill="#000"/>
<rect x="851" y="214" width="3" height="11" fill="#000"/>
<rect x="852" y="215" width="1" height="9" fill="#40e040"/>
<rect x="855" y="212" width="1" height="28" fill="#000"/>
<rect x="854" y="213" width="3" height="19" fill="#000"/>
<rect x="855" y="214" width="1" height="17" fill="#f04040"/>
<rect x="859" y="222" width="1" height="12" fill="#000"/>
<rect x="858" y="226" width="3" height="1" fill="#000"/>
<rect x="862" y="222" width="1" height="12" fill="#000"/>
<rect x="861" y="222" width="3" height="6" fill="#000"/>
<rect x="862" y="223" width="1" height="4" fill="#f04040"/>
<rect x="865" y="224" width="1" height="20" fill="#000"/>
<rect x="864" y="226" width="3" height="13" fill="#000"/>
<rect x="865" y="227" width="1" height="11" fill="#f04040"/>
<rect x="869" y="225" width="1" height="18" fill="#000"/>
<rect x="868" y="228" width="3" height="12" fill="#000"/>
<rect x="869" y="229" width="1" height="10" fill="#40e040"/>
<rect x="872" y="227" width="1" height="10" fill="#000"/>
<rect x="871" y="228" width="3" height="3" fill="#000"/>
<rect x="872" y="229" width="1" height="1" fill="#f04040"/>
<rect x="876" y="229" width="1" height="10" fill="#000"/>
<rect x="875" y="231" width="3" height="5" fill="#000"/>
<rect x="876" y="232" width="1" height="3" fill="#f04040"/>
<rect x="879" y="224" width="1" height="14" fill="#000"/>
<rect x="878" y="226" width="3" height="10" fill="#000"/>
<rect x="879" y="227" width="1" height="8" fill="#40e040"/>
<rect x="883" y="227" width="1" height="49" fill="#000"/>
<rect x="882" y="227" width="3" height="42" fill="#000"/>
<rect x="883" y="228" width="1" height="40" fill="#f04040"/>
<rect x="886" y="267" width="1" height="20" fill="#000"/>
<rect x="885" y="270" width="3" height="16" fill="#000"/>
<rect x="886" y="271" width="1" height="14" fill="#f04040"/>
<rect x="889" y="280" width="1" height="28" fill="#000"/>
<rect x="888" y="286" width="3" height="8" fill="#000"/>
<rect x="889" y="287" width="1" height="6" fill="#f04040"/>
<rect x="893" y="292" width="1" height="29" fill="#000"/>
<rect x="892" y="292" width="3" height="23" fill="#000"/>
<rect x="893" y="293" width="1" height="21" fill="#f04040"/>
<rect x="896" y="311" width="1" height="39" fill="#000"/>
<rect x="895" y="313" width="3" height="18" fill="#000"/>
<rect x="896" y="314" width="1" height="16" fill="#f04040"/>
<rect x="583" y="72" width="9" height="1" fill="#000"/>
<rect x="892" y="349" width="9" height="1" fill="#000"/>
</svg>
<div class="sq"></div>
<div class="t" style="left:902.00px;top:20px;letter-spacing:-0.113px">5.000</div>
<div class="t" style="left:902.00px;top:78px;letter-spacing:-0.113px">2.000</div>
<div class="t" style="left:902.00px;top:121px;letter-spacing:-0.113px">1.000</div>
<div class="t" style="left:902.00px;top:165px;letter-spacing:-0.125px">500</div>
<div class="t" style="left:902.00px;top:223px;letter-spacing:-0.125px">200</div>
<div class="t" style="left:902.00px;top:266px;letter-spacing:-0.125px">100</div>
<div class="t" style="left:902.00px;top:310px;letter-spacing:-0.125px">50</div>
<div class="t" style="left:902.00px;top:367px;letter-spacing:-0.125px">20</div>
<div class="t" style="left:62.00px;top:403px;letter-spacing:-0.258px">Feb.</div>
<div class="t" style="left:129.50px;top:403px;letter-spacing:-0.109px">März</div>
<div class="t" style="left:209.50px;top:403px;letter-spacing:0.000px">April</div>
<div class="t" style="left:281.50px;top:403px;letter-spacing:-0.573px">Mai</div>
<div class="t" style="left:348.00px;top:403px;letter-spacing:-0.297px">Juni</div>
<div class="t" style="left:426.00px;top:403px;letter-spacing:-0.375px">Juli</div>
<div class="t" style="left:497.00px;top:403px;letter-spacing:0.086px">Aug.</div>
<div class="t" style="left:573.50px;top:403px;letter-spacing:-0.164px">Sep.</div>
<div class="t" style="left:650.00px;top:403px;letter-spacing:-0.297px">Okt.</div>
<div class="t" style="left:721.50px;top:403px;letter-spacing:-0.156px">Nov.</div>
<div class="t" style="left:796.50px;top:403px;letter-spacing:-0.156px">Dez.</div>
<div class="t" style="left:869.50px;top:403px;letter-spacing:-0.203px">Jan.</div>
<div class="t" style="left:15.00px;top:0px;letter-spacing:-0.215px">Wikifolio</div>
<div class="t" style="left:57.00px;top:0px;letter-spacing:-0.188px">Trading</div>
<div class="t" style="left:96.00px;top:0px;letter-spacing:0.344px">-</div>
<div class="t" style="left:103.00px;top:0px;letter-spacing:-0.031px">Baerenstark</div>
<div class="t" style="left:165.00px;top:0px;letter-spacing:-0.117px">(L&amp;S</div>
<div class="t" style="left:192.00px;top:0px;letter-spacing:-0.438px">RT)</div>
<div class="t g" style="left:8.00px;top:389px;letter-spacing:-0.081px">04.01.21 - 10.01.22</div>
<div class="t g" style="left:574.00px;top:58px;letter-spacing:-0.113px">2.369</div>
<div class="t g" style="left:859.00px;top:353px;letter-spacing:-0.115px">29,888</div>
</body></html>
